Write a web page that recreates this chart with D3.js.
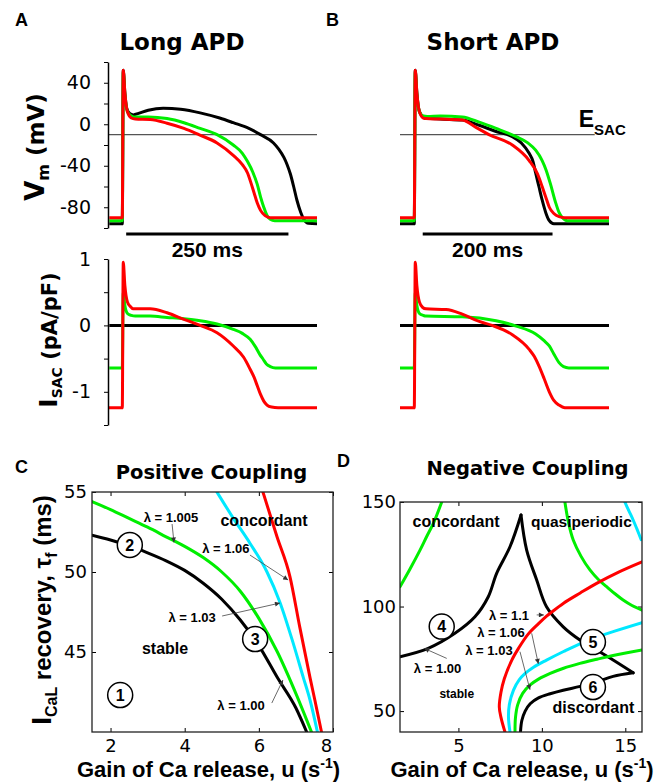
<!DOCTYPE html>
<html><head><meta charset="utf-8">
<script src="https://cdn.jsdelivr.net/npm/d3@7"></script>
<style>body{margin:0;background:#fff}</style>
</head><body>
<svg id="fig" width="663" height="782"></svg>
<script>
// ---------------- DATA ----------------
const timeDomain = [-22, 300];          // ms
const vmDomain = [-100, 60];             // mV
const isacDomain = [-1.5, 1];            // pA/pF
const eSAC = -10;                        // mV
const vmTicks = [-100, -80, -60, -40, -20, 0, 20, 40, 60];
const vmTickLabels = [-80, -40, 0, 40];
const isacTicks = [-1.5, -1, -0.5, 0, 0.5, 1];
const isacTickLabels = [-1, 0, 1];

// Panel A (long APD) membrane potential [t (ms), Vm (mV)]
const vmLongBlack = [[-20,-96],[0,-96],[1.5,52],[4,30],[7,15],[12,10],[17,9],[25,10.5],[40,13.5],[63,15.5],[90,14.5],[120,11],[150,6],[171,1.5],[195,-4],[213,-10],[233,-18],[241,-24],[249,-32],[254,-39],[259,-48],[264,-60],[269,-73],[275,-85],[280,-92],[287,-95.5],[300,-96]];
const vmLongGreen = [[-20,-93],[0,-93],[1.5,50],[4,28],[8,12],[14,8],[20,7],[40,7],[69,5.5],[95,1.5],[120,-4],[146,-10],[171,-20],[185,-28],[193,-36],[201,-46],[208,-58],[213,-70],[218,-80],[223,-88],[228,-91.5],[235,-93],[300,-93]];
const vmLongRed = [[-20,-90],[0,-90],[1.5,52],[4,30],[8,12],[14,6],[20,5],[43,4.5],[69,1],[95,-4],[118,-10],[146,-18],[171,-30],[185,-39],[193,-47],[198,-56],[203,-66],[208,-76],[213,-83],[220,-88],[228,-90],[300,-90]];
// Panel B (short APD)
const vmShortBlack = [[-22,-96],[0,-96],[1.5,52],[4,30],[8,12],[14,7],[18,6],[40,5],[74,4],[100,-1],[126,-7],[151,-12],[165,-18],[177,-28],[183,-36],[187,-47],[192,-60],[197,-73],[203,-86],[208,-93],[215,-96],[300,-96]];
const vmShortGreen = [[-22,-93],[0,-93],[1.5,50],[4,28],[8,12],[14,8],[20,7.5],[40,8],[74,7],[100,2],[126,-4],[157,-12],[175,-18],[187,-25],[197,-35],[203,-44],[210,-58],[218,-76],[223,-85],[228,-90],[236,-93],[300,-93]];
const vmShortRed = [[-22,-90],[0,-90],[1.5,52],[4,30],[8,12],[14,6],[18,5.5],[40,5],[74,4],[95,-3],[115,-10],[151,-20],[177,-35],[190,-48],[197,-60],[203,-71],[208,-80],[215,-86],[223,-89],[232,-90],[300,-90]];
// Stretch-activated current [t (ms), I (pA/pF)]
const isacLongBlack = [[-20,0],[300,0]];
const isacLongGreen = [[-20,-0.64],[0,-0.64],[1.5,0.5],[4,0.3],[8,0.18],[14,0.15],[20,0.14],[43,0.14],[69,0.12],[95,0.1],[120,0.07],[146,0.02],[171,-0.06],[185,-0.12],[197,-0.21],[205,-0.32],[212,-0.44],[217,-0.51],[222,-0.58],[228,-0.62],[236,-0.64],[300,-0.64]];
const isacLongRed = [[-22,-1.24],[0,-1.24],[1.5,0.95],[4,0.6],[8,0.35],[12,0.29],[17,0.25],[43,0.25],[69,0.19],[95,0.09],[120,0],[146,-0.11],[171,-0.31],[187,-0.48],[197,-0.66],[203,-0.78],[208,-0.91],[213,-1.04],[218,-1.14],[223,-1.2],[230,-1.23],[240,-1.24],[300,-1.24]];
const isacShortBlack = [[-22,0],[300,0]];
const isacShortGreen = [[-22,-0.64],[0,-0.64],[1.5,0.5],[4,0.3],[8,0.18],[14,0.15],[18,0.14],[74,0.13],[126,0.07],[157,-0.01],[187,-0.13],[200,-0.23],[208,-0.31],[215,-0.43],[223,-0.56],[230,-0.62],[238,-0.64],[300,-0.64]];
const isacShortRed = [[-22,-1.24],[0,-1.24],[1.5,0.95],[4,0.6],[8,0.35],[13,0.27],[18,0.25],[49,0.24],[74,0.17],[100,0.06],[120,0],[151,-0.14],[177,-0.36],[185,-0.47],[192,-0.61],[200,-0.8],[208,-1.0],[215,-1.13],[223,-1.2],[232,-1.24],[300,-1.24]];

// Panel C (positive coupling) boundaries [u (1/s), tau_f (ms)]
const cDomainU = [1.5, 8];
const cDomainTau = [40, 55];
const cTicksU = [2, 4, 6, 8];
const cTicksTau = [45, 50, 55];
const cLam100 = [[1.5,52.3],[2.0,52.0],[2.5,51.65],[3.0,51.2],[3.5,50.7],[4.0,50.1],[4.5,49.3],[5.0,48.3],[5.5,47.0],[6.0,45.4],[6.5,43.4],[7.0,41.5],[7.29,40]];
const cLam1005 = [[1.5,54.4],[2.0,53.9],[2.5,53.35],[3.0,52.8],[3.5,52.2],[4.0,51.6],[4.5,50.9],[5.0,50.0],[5.5,48.8],[6.0,47.1],[6.5,45.0],[7.0,42.4],[7.42,40]];
const cLam103 = [[4.87,55],[5.3,53.4],[5.76,51.8],[6.22,50.0],[6.57,48.1],[6.92,45.6],[7.2,43.4],[7.38,42.0],[7.58,40]];
const cLam106 = [[6.11,55],[6.49,52.2],[6.84,49.7],[7.1,46.6],[7.38,43.4],[7.51,42.0],[7.69,40]];

// Panel D (negative coupling) boundaries
const dDomainU = [1.5, 16];
const dDomainTau = [40, 150];
const dTicksU = [5, 10, 15];
const dTicksTau = [50, 100, 150];
const dLam100Left = [[1.5,76],[3.19,80.0],[4.79,87.2],[5.99,95.1],[6.79,104.7],[7.29,115.9],[8.09,128.6],[8.75,143.8]];
const dLam100Right = [[8.75,143.8],[9.09,127],[9.69,112.7],[10.28,99.9],[11.28,90.3],[12.28,84],[13.28,79.2],[14.27,74.4],[15.47,68.3]];
const dLam100Lower = [[15.47,68.3],[14.27,66.6],[13.28,64.0],[12.3,61.8],[11.28,60.0],[10.5,58.3],[9.8,56.3],[9.3,53.5],[9.0,50],[8.8,45.5],[8.72,40]];
const dLam103Lower = [[8.39,40],[8.42,47],[8.55,53],[8.85,58.5],[9.3,62.5],[9.8,65.3],[10.5,68],[11.3,70.5],[12.28,72.8],[13.3,74.8],[14.27,76.6],[16,79.2]];
const dLam103UpperLeft = [[1.5,109.5],[2.1,118],[2.7,127],[3.1,133.5],[3.5,139.8],[4.0,150]];
const dLam103UpperRight = [[11.38,150],[11.6,140],[11.88,131.8],[12.35,124],[12.88,117.5],[13.4,112.8],[13.88,109.5],[14.4,106],[14.87,103.1],[15.4,100.5],[16,98.3]];
const dLam106 = [[8.09,40],[8.0,47],[8.05,53],[8.3,60],[8.65,65],[9.0,68],[9.5,71],[10.28,74.4],[11.3,78.5],[12.28,82.2],[13.3,85.4],[14.27,88],[16,92.3]];
const dLam106Upper = [[14.97,150],[15.2,146],[15.47,141.4],[15.7,137],[15.95,132]];
const dLam110 = [[7.79,40],[7.55,47],[7.45,52],[7.55,59],[7.75,65.5],[8.2,74.4],[8.6,80],[9.18,86.8],[9.8,91.8],[10.3,95.5],[10.58,97.3],[11.28,101.5],[12.3,106.5],[13.28,111.1],[14.6,116.5],[16,121.4]];

// ---------------- DRAWING ----------------
const SANS = "'Liberation Sans', Arial, sans-serif";
const WIDE = "'DejaVu Sans', sans-serif";
const BLACK = "#000", GREEN = "#00ee00", RED = "#ff0000", CYAN = "#00e8ff";

const svg = d3.select("#fig");
svg.append("rect").attr("width", 663).attr("height", 782).attr("fill", "#fff");
const defs = svg.append("defs");
defs.append("marker").attr("id", "ah").attr("viewBox", "0 0 10 10")
  .attr("refX", 10).attr("refY", 5).attr("markerUnits", "userSpaceOnUse")
  .attr("markerWidth", 6).attr("markerHeight", 5).attr("orient", "auto")
  .append("path").attr("d", "M0,0L10,5L0,10z").attr("fill", "#333");

function txt(x, y, s, size, opts = {}) {
  return svg.append("text").attr("x", x).attr("y", y).text(s)
    .attr("font-family", opts.family || SANS).attr("font-size", size)
    .attr("font-weight", opts.weight || "bold").attr("text-anchor", opts.anchor || "middle")
    .attr("fill", "#000");
}
function styleAxis(g, size) {
  g.selectAll("text").attr("font-family", WIDE).attr("font-size", size).attr("fill", "#000");
  g.selectAll("line").attr("stroke", "#000");
  g.select(".domain").attr("stroke", "#000").attr("stroke-width", 1.5);
}

// ---- Panels A & B ----
const xA = d3.scaleLinear().domain(timeDomain).range([108, 317]);
const xB = d3.scaleLinear().domain(timeDomain).range([400, 609]);
const yV = d3.scaleLinear().domain(vmDomain).range([228, 62]);
const yI = d3.scaleLinear().domain(isacDomain).range([425, 259]);

function trace(xs, ys, data, color) {
  svg.append("path").datum(data)
    .attr("d", d3.line().x(d => xs(d[0])).y(d => ys(d[1])).curve(d3.curveMonotoneX))
    .attr("fill", "none").attr("stroke", color).attr("stroke-width", 3)
    .attr("stroke-linejoin", "round");
}

// E_SAC reference lines
svg.append("line").attr("x1", xA(timeDomain[0])).attr("x2", xA(timeDomain[1]))
  .attr("y1", yV(eSAC)).attr("y2", yV(eSAC)).attr("stroke", "#555").attr("stroke-width", 1.2);
const eSacEnd = 278;
svg.append("line").attr("x1", xB(timeDomain[0])).attr("x2", xB(eSacEnd))
  .attr("y1", yV(eSAC)).attr("y2", yV(eSAC)).attr("stroke", "#555").attr("stroke-width", 1.2);

trace(xA, yV, vmLongBlack, BLACK); trace(xA, yV, vmLongGreen, GREEN); trace(xA, yV, vmLongRed, RED);
trace(xB, yV, vmShortBlack, BLACK); trace(xB, yV, vmShortGreen, GREEN); trace(xB, yV, vmShortRed, RED);
trace(xA, yI, isacLongBlack, BLACK); trace(xA, yI, isacLongGreen, GREEN); trace(xA, yI, isacLongRed, RED);
trace(xB, yI, isacShortBlack, BLACK); trace(xB, yI, isacShortGreen, GREEN); trace(xB, yI, isacShortRed, RED);

const gV = svg.append("g").attr("transform", `translate(${xA.range()[0]},0)`)
  .call(d3.axisLeft(yV).tickValues(vmTicks).tickFormat(d => vmTickLabels.includes(d) ? String(d) : "")
    .tickSizeInner(4).tickSizeOuter(0).tickPadding(13));
styleAxis(gV, 19);
const gI = svg.append("g").attr("transform", `translate(${xA.range()[0]},0)`)
  .call(d3.axisLeft(yI).tickValues(isacTicks).tickFormat(d => isacTickLabels.includes(d) ? String(d) : "")
    .tickSizeInner(4).tickSizeOuter(0).tickPadding(13));
styleAxis(gI, 19);

// E_SAC label
const eLab = txt(xB(eSacEnd) - 16, yV(eSAC) - 8, "E", 23, { anchor: "start" });
eLab.append("tspan").attr("font-size", 15).attr("dy", 8).text("SAC");

// scale bars
const barY = yV.range()[0] + 6;
svg.append("line").attr("x1", xA(6)).attr("x2", xA(256)).attr("y1", barY).attr("y2", barY)
  .attr("stroke", "#000").attr("stroke-width", 3);
txt((xA(6) + xA(256)) / 2, 257, "250 ms", 21);
svg.append("line").attr("x1", xB(13)).attr("x2", xB(213)).attr("y1", barY).attr("y2", barY)
  .attr("stroke", "#000").attr("stroke-width", 3);
txt((xB(13) + xB(213)) / 2, 257, "200 ms", 21);

// titles / letters
txt(15, 26, "A", 18, { anchor: "start" });
txt(326, 26, "B", 18, { anchor: "start" });
txt(182, 50, "Long APD", 23, { family: WIDE });
txt(493, 50, "Short APD", 23, { family: WIDE });

// y labels A
const vmLab = svg.append("text").attr("transform", "translate(44,147) rotate(-90)")
  .attr("text-anchor", "middle").attr("font-family", WIDE).attr("font-weight", "bold");
vmLab.append("tspan").attr("font-size", 26).text("V");
vmLab.append("tspan").attr("font-size", 16).attr("dy", 5).text("m");
vmLab.append("tspan").attr("font-size", 23).attr("dy", -5).text(" (mV)");
const iLab = svg.append("text").attr("transform", "translate(57,340) rotate(-90)")
  .attr("text-anchor", "middle").attr("font-family", WIDE).attr("font-weight", "bold");
iLab.append("tspan").attr("font-size", 25).text("I");
iLab.append("tspan").attr("font-size", 14).attr("dy", 5).text("SAC");
iLab.append("tspan").attr("font-size", 21).attr("dy", -5).text(" (pA/pF)");

// ---- Panels C & D ----
function phasePanel(xs, ys, ticksU, ticksTau, padL) {
  const [x0, x1] = xs.range(), [y0, y1] = ys.range();
  const clipId = "clip" + Math.round(x0);
  defs.append("clipPath").attr("id", clipId).append("rect")
    .attr("x", x0).attr("y", y1).attr("width", x1 - x0).attr("height", y0 - y1);
  const gb = svg.append("g").attr("transform", `translate(0,${y0})`)
    .call(d3.axisBottom(xs).tickValues(ticksU).tickFormat(d => String(d))
      .tickSizeInner(-4).tickSizeOuter(0).tickPadding(7));
  styleAxis(gb, 18); gb.select(".domain").remove();
  const gt = svg.append("g").attr("transform", `translate(0,${y1})`)
    .call(d3.axisTop(xs).tickValues(ticksU).tickFormat("").tickSizeInner(-4).tickSizeOuter(0));
  styleAxis(gt, 18); gt.select(".domain").remove();
  const gl = svg.append("g").attr("transform", `translate(${x0},0)`)
    .call(d3.axisLeft(ys).tickValues(ticksTau).tickFormat(d => String(d))
      .tickSizeInner(-4).tickSizeOuter(0).tickPadding(padL));
  styleAxis(gl, 18); gl.select(".domain").remove();
  const gr = svg.append("g").attr("transform", `translate(${x1},0)`)
    .call(d3.axisRight(ys).tickValues(ticksTau).tickFormat("").tickSizeInner(-4).tickSizeOuter(0));
  styleAxis(gr, 18); gr.select(".domain").remove();
  const plot = svg.append("g").attr("clip-path", `url(#${clipId})`);
  svg.append("rect").attr("x", x0).attr("y", y1).attr("width", x1 - x0).attr("height", y0 - y1)
    .attr("fill", "none").attr("stroke", "#222").attr("stroke-width", 1.3);
  return { plot, gb };
}
function curve(g, xs, ys, data, color, monotone) {
  g.append("path").datum(data)
    .attr("d", d3.line().x(d => xs(d[0])).y(d => ys(d[1]))
      .curve(monotone ? d3.curveMonotoneX : d3.curveCatmullRom.alpha(0.5)))
    .attr("fill", "none").attr("stroke", color).attr("stroke-width", 3)
    .attr("stroke-linecap", "round").attr("stroke-linejoin", "round");
}
function arrow(xs, ys, from, to) {
  svg.append("line").attr("x1", xs(from[0])).attr("y1", ys(from[1]))
    .attr("x2", xs(to[0])).attr("y2", ys(to[1]))
    .attr("stroke", "#444").attr("stroke-width", 0.8).attr("marker-end", "url(#ah)");
}
function badge(xs, ys, p, label) {
  const g = svg.append("g").attr("transform", `translate(${xs(p[0])},${ys(p[1])})`);
  g.append("circle").attr("r", 12.5).attr("fill", "#fff").attr("stroke", "#000").attr("stroke-width", 1.5);
  g.append("text").text(label).attr("text-anchor", "middle").attr("dy", "0.36em")
    .attr("font-family", SANS).attr("font-weight", "bold").attr("font-size", 16);
}
function lbl(xs, ys, p, s, size) { txt(xs(p[0]), ys(p[1]), s, size); }

// C
const xC = d3.scaleLinear().domain(cDomainU).range([92, 333]);
const yC = d3.scaleLinear().domain(cDomainTau).range([732, 492]);
const pc = phasePanel(xC, yC, cTicksU, cTicksTau, 5);
pc.gb.selectAll(".tick text").filter(d => d === 8).attr("dx", -7);
curve(pc.plot, xC, yC, cLam100, BLACK, true);
curve(pc.plot, xC, yC, cLam1005, GREEN, true);
curve(pc.plot, xC, yC, cLam103, CYAN, true);
curve(pc.plot, xC, yC, cLam106, RED, true);
lbl(xC, yC, [3.63, 53.15], "λ = 1.005", 13);
arrow(xC, yC, [3.66, 53.0], [3.71, 51.85]);
lbl(xC, yC, [6.14, 52.85], "concordant", 16);
lbl(xC, yC, [5.11, 51.2], "λ = 1.06", 13);
arrow(xC, yC, [5.76, 51.06], [6.79, 49.5]);
lbl(xC, yC, [4.2, 46.9], "λ = 1.03", 13);
arrow(xC, yC, [5.01, 47.25], [6.57, 48.06]);
lbl(xC, yC, [3.47, 44.9], "stable", 16);
lbl(xC, yC, [5.52, 41.4], "λ = 1.00", 13);
arrow(xC, yC, [6.35, 41.81], [6.65, 43.25]);
badge(xC, yC, [2.26, 42.31], "1");
badge(xC, yC, [2.52, 51.69], "2");
badge(xC, yC, [5.9, 45.81], "3");

txt(15, 473, "C", 18, { anchor: "start" });
txt(211.5, 479, "Positive Coupling", 19.5, { family: WIDE });
const cY = svg.append("text").attr("transform", "translate(51,610) rotate(-90)")
  .attr("text-anchor", "middle").attr("font-family", SANS).attr("font-weight", "bold");
cY.append("tspan").attr("font-size", 28).text("I");
cY.append("tspan").attr("font-size", 16).attr("dy", 6).text("CaL");
cY.append("tspan").attr("font-size", 24).attr("dy", -6).text(" recovery, τ");
cY.append("tspan").attr("font-size", 16).attr("dy", 6).text("f");
cY.append("tspan").attr("font-size", 24).attr("dy", -6).text(" (ms)");
function xLabel(cx) {
  const t = txt(cx, 777, "Gain of Ca release, u (s", 22);
  t.append("tspan").attr("font-size", 14).attr("dy", -9).text("-1");
  t.append("tspan").attr("dy", 9).text(")");
}
xLabel(208.5);

// D
const xD = d3.scaleLinear().domain(dDomainU).range([400, 642]);
const yD = d3.scaleLinear().domain(dDomainTau).range([732, 502]);
const pd = phasePanel(xD, yD, dTicksU, dTicksTau, 4);
curve(pd.plot, xD, yD, dLam100Left, BLACK);
curve(pd.plot, xD, yD, dLam100Right, BLACK);
curve(pd.plot, xD, yD, dLam100Lower, BLACK);
curve(pd.plot, xD, yD, dLam103UpperLeft, GREEN);
curve(pd.plot, xD, yD, dLam103UpperRight, GREEN);
curve(pd.plot, xD, yD, dLam103Lower, GREEN);
curve(pd.plot, xD, yD, dLam106, CYAN);
curve(pd.plot, xD, yD, dLam106Upper, CYAN);
curve(pd.plot, xD, yD, dLam110, RED);
lbl(xD, yD, [4.86, 138.0], "concordant", 16);
lbl(xD, yD, [12.37, 138.0], "quasiperiodic", 15.5);
lbl(xD, yD, [8.03, 93.6], "λ = 1.1", 13);
arrow(xD, yD, [9.69, 96.0], [10.12, 96.0]);
lbl(xD, yD, [7.55, 85.4], "λ = 1.06", 13);
arrow(xD, yD, [9.39, 87.2], [9.79, 72.6]);
lbl(xD, yD, [6.83, 76.8], "λ = 1.03", 13);
arrow(xD, yD, [8.69, 78.4], [9.29, 60.2]);
lbl(xD, yD, [3.75, 68.2], "λ = 1.00", 13);
arrow(xD, yD, [4.3, 75.2], [2.95, 80.0]);
lbl(xD, yD, [4.9, 56.3], "stable", 12);
lbl(xD, yD, [13.09, 49.1], "discordant", 16);
badge(xD, yD, [4.0, 90.4], "4");
badge(xD, yD, [13.06, 83.0], "5");
badge(xD, yD, [13.06, 61.5], "6");

txt(337, 467, "D", 18, { anchor: "start" });
txt(527.5, 475, "Negative Coupling", 19.5, { family: WIDE });
xLabel(522);
</script>
</body></html>
